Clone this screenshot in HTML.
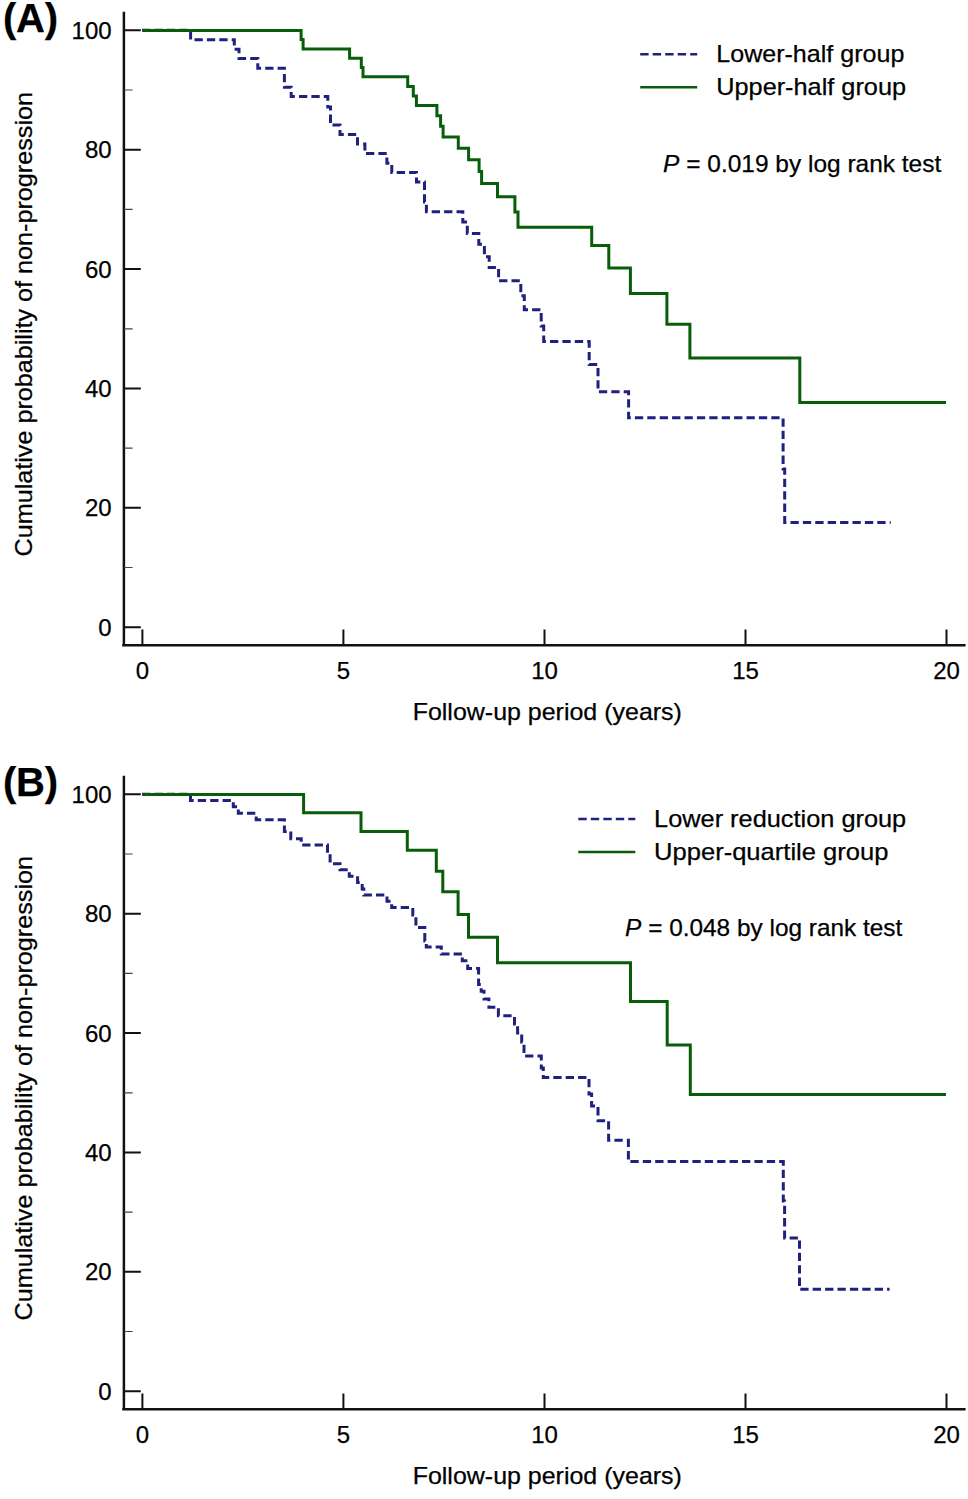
<!DOCTYPE html>
<html><head><meta charset="utf-8"><title>Kaplan-Meier curves</title>
<style>
html,body{margin:0;padding:0;background:#fff;}
body{width:968px;height:1499px;overflow:hidden;}
svg{display:block;}
text{font-family:"Liberation Sans",sans-serif;fill:#000;stroke:#000;stroke-width:0.25px;}
.n{font-size:24px;}
.l{font-size:24px;}
.ly{font-size:24.5px;}
.h{font-size:40px;font-weight:bold;}
</style></head><body>
<svg width="968" height="1499" viewBox="0 0 968 1499">
<rect width="968" height="1499" fill="#fff"/>
<text x="3" y="31.8" class="h" textLength="55" lengthAdjust="spacing">(A)</text>
<text x="3" y="795.8" class="h" textLength="55" lengthAdjust="spacing">(B)</text>
<g transform="translate(0,0)">
<path d="M123.9,11.8 V646.4 M122.2,645.2 H965.6" stroke="#111111" stroke-width="2.5" fill="none"/>
<path d="M124,627.2 H140.8 M124,507.8 H140.8 M124,388.4 H140.8 M124,269.1 H140.8 M124,149.7 H140.8 M124,30.3 H140.8 " stroke="#111111" stroke-width="2" fill="none"/>
<path d="M124,567.5 H132.6 M124,448.1 H132.6 M124,328.8 H132.6 M124,209.4 H132.6 M124,90.0 H132.6 " stroke="#444" stroke-width="1.2" fill="none"/>
<path d="M142.4,645 V629.4 M343.4,645 V629.4 M544.5,645 V629.4 M745.5,645 V629.4 M946.5,645 V629.4 " stroke="#111111" stroke-width="2" fill="none"/>
<text x="111.6" y="635.8" text-anchor="end" class="n">0</text>
<text x="111.6" y="516.4" text-anchor="end" class="n">20</text>
<text x="111.6" y="397.0" text-anchor="end" class="n">40</text>
<text x="111.6" y="277.7" text-anchor="end" class="n">60</text>
<text x="111.6" y="158.3" text-anchor="end" class="n">80</text>
<text x="111.6" y="38.9" text-anchor="end" class="n">100</text>
<text x="142.4" y="678.7" text-anchor="middle" class="n">0</text>
<text x="343.4" y="678.7" text-anchor="middle" class="n">5</text>
<text x="544.5" y="678.7" text-anchor="middle" class="n">10</text>
<text x="745.5" y="678.7" text-anchor="middle" class="n">15</text>
<text x="946.5" y="678.7" text-anchor="middle" class="n">20</text>
<text id="xlA" x="412.70" y="719.6" class="l" textLength="269.19" lengthAdjust="spacingAndGlyphs">Follow-up period (years)</text>
<text id="ylA" transform="translate(32.3,556.5) rotate(-90)" x="0" y="0" class="ly" textLength="464.50" lengthAdjust="spacingAndGlyphs">Cumulative probability of non-progression</text>
<path d="M640.2,54.2 H697.2" stroke="#20207e" stroke-width="2.4" stroke-dasharray="8.4 4.1" fill="none"/>
<path d="M640.2,87.2 H697.2" stroke="#085e08" stroke-width="2.4" fill="none"/>
<text id="lg1A" x="716.27" y="62" class="l" textLength="188.05" lengthAdjust="spacingAndGlyphs">Lower-half group</text>
<text id="lg2A" x="716.26" y="94.8" class="l" textLength="189.77" lengthAdjust="spacingAndGlyphs">Upper-half group</text>
<text id="pvA" x="663.10" y="172.3" class="l" textLength="278.14" lengthAdjust="spacingAndGlyphs"><tspan font-style="italic">P</tspan> = 0.019 by log rank test</text>
</g>
<g transform="translate(0,764)">
<path d="M123.9,11.8 V646.4 M122.2,645.2 H965.6" stroke="#111111" stroke-width="2.5" fill="none"/>
<path d="M124,627.2 H140.8 M124,507.8 H140.8 M124,388.4 H140.8 M124,269.1 H140.8 M124,149.7 H140.8 M124,30.3 H140.8 " stroke="#111111" stroke-width="2" fill="none"/>
<path d="M124,567.5 H132.6 M124,448.1 H132.6 M124,328.8 H132.6 M124,209.4 H132.6 M124,90.0 H132.6 " stroke="#444" stroke-width="1.2" fill="none"/>
<path d="M142.4,645 V629.4 M343.4,645 V629.4 M544.5,645 V629.4 M745.5,645 V629.4 M946.5,645 V629.4 " stroke="#111111" stroke-width="2" fill="none"/>
<text x="111.6" y="635.8" text-anchor="end" class="n">0</text>
<text x="111.6" y="516.4" text-anchor="end" class="n">20</text>
<text x="111.6" y="397.0" text-anchor="end" class="n">40</text>
<text x="111.6" y="277.7" text-anchor="end" class="n">60</text>
<text x="111.6" y="158.3" text-anchor="end" class="n">80</text>
<text x="111.6" y="38.9" text-anchor="end" class="n">100</text>
<text x="142.4" y="678.7" text-anchor="middle" class="n">0</text>
<text x="343.4" y="678.7" text-anchor="middle" class="n">5</text>
<text x="544.5" y="678.7" text-anchor="middle" class="n">10</text>
<text x="745.5" y="678.7" text-anchor="middle" class="n">15</text>
<text x="946.5" y="678.7" text-anchor="middle" class="n">20</text>
<text id="xlB" x="412.70" y="719.6" class="l" textLength="269.19" lengthAdjust="spacingAndGlyphs">Follow-up period (years)</text>
<text id="ylB" transform="translate(32.3,556.5) rotate(-90)" x="0" y="0" class="ly" textLength="464.50" lengthAdjust="spacingAndGlyphs">Cumulative probability of non-progression</text>
<path d="M578.3,55.0 H635.3" stroke="#20207e" stroke-width="2.4" stroke-dasharray="8.4 4.1" fill="none"/>
<path d="M578.3,88.0 H635.3" stroke="#085e08" stroke-width="2.4" fill="none"/>
<text id="lg1B" x="654.05" y="62.9" class="l" textLength="252.18" lengthAdjust="spacingAndGlyphs">Lower reduction group</text>
<text id="lg2B" x="654.06" y="95.7" class="l" textLength="234.39" lengthAdjust="spacingAndGlyphs">Upper-quartile group</text>
<text id="pvB" x="625.09" y="172.3" class="l" textLength="277.24" lengthAdjust="spacingAndGlyphs"><tspan font-style="italic">P</tspan> = 0.048 by log rank test</text>
</g>
<path d="M142,30.3 H190.6 V39.8 H234.3 V49.3 H239 V58.5 H257.8 V68.3 H284.4 V87.2 H291.2 V96.5 H327.8 V107 H330.5 V125 H340 V134.4 H357.5 V144 H364.9 V153.5 H386.9 V163.2 H391.8 V172.4 H416.5 V181.9 H424.5 V202 H426.4 V211.8 H462.8 V222 H467.3 V233.6 H478.8 V244.3 H484.4 V256.7 H489.2 V267.5 H498.6 V280.8 H520.8 V295.7 H524.3 V309.8 H541.2 V326 H543.7 V341.5 H589.2 V364.6 H598 V391.8 H628.6 V417.8 H783.1 V469 H784.7 V522.6 H890.7" stroke="#20207e" stroke-width="3" stroke-dasharray="8.3 4.1" fill="none"/>
<path d="M142.6,30.6 H301.1 V39.6 H303.1 V48.9 H349.6 V58.3 H361.3 V67.4 H363 V76.7 H407.7 V86.4 H413.3 V96 H416.4 V105.6 H436.9 V115.8 H440.6 V126.3 H443.1 V136.9 H458.3 V148.3 H468.6 V159.8 H479.1 V171.5 H481.6 V183.6 H497.5 V196.8 H514.9 V212 H518 V227.2 H591.7 V245.5 H608.8 V268 H630.4 V293.6 H666.9 V324.2 H689.9 V357.9 H799.8 V402.4 H946" stroke="#085e08" stroke-width="3" fill="none"/>
<path d="M142,794.3 H190.5 V800.5 H233.3 V806.7 H238.3 V813.3 H256.2 V819.8 H284.4 V831.5 H290.8 V838.7 H301.2 V844.9 H327.5 V853 H330.1 V863.7 H340 V869.7 H349.3 V876.3 H357.6 V882.5 H362.2 V889 H363.8 V895.1 H387 V901.3 H391.7 V907.6 H412.8 V915 H415.9 V927.5 H424.8 V941 H426.3 V947 H441.3 V953.9 H462.3 V960.8 H467.7 V968.6 H478.6 V984.6 H481.2 V991.3 H484 V999 H488.9 V1007.3 H498.4 V1015.8 H514.5 V1024 H517.6 V1033 H521.7 V1042 H524 V1056 H541.3 V1068 H543.3 V1077.4 H589 V1094 H591.6 V1106 H598 V1120.7 H608.6 V1140.3 H628.4 V1161.5 H783.3 V1201 H784.6 V1237.9 H799.5 V1289.2 H889.6" stroke="#20207e" stroke-width="3" stroke-dasharray="8.3 4.1" fill="none"/>
<path d="M142.6,794.6 H303.6 V812.8 H361 V831.6 H407.3 V850.2 H436.3 V871.2 H442.8 V891.7 H458.1 V914.4 H468.5 V937.3 H497.5 V962.8 H630.5 V1001.5 H667.2 V1044.9 H690.3 V1094.5 H946" stroke="#085e08" stroke-width="3" fill="none"/>
</svg>
</body></html>
